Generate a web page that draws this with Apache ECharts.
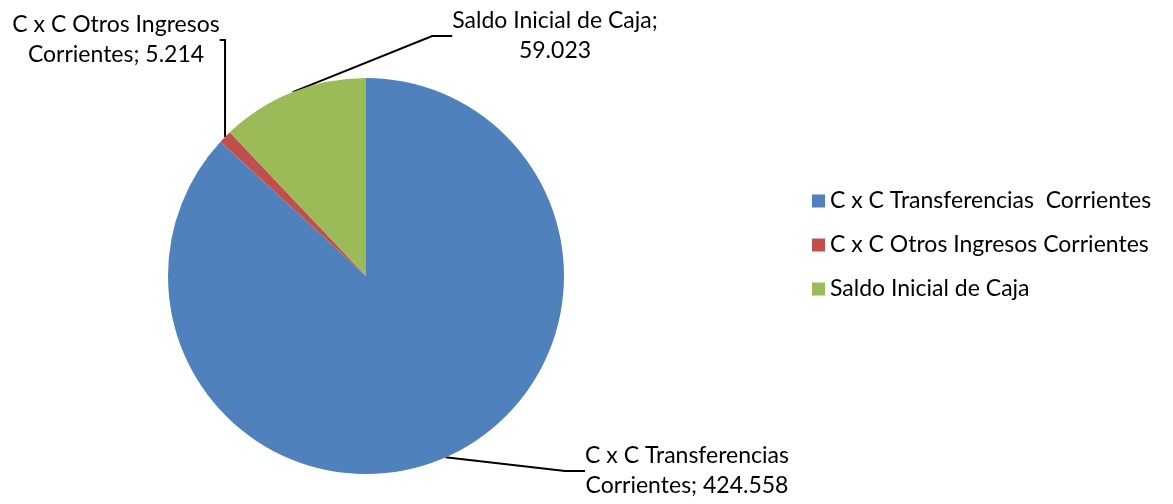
<!DOCTYPE html>
<html><head><meta charset="utf-8">
<script src="https://cdn.jsdelivr.net/npm/echarts@6/dist/echarts.min.js"></script>
<style>html,body{margin:0;padding:0;background:#fff}#c{width:1173px;height:504px}</style>
</head><body><div id="c"></div>
<script>
const categories = ['C x C Transferencias  Corrientes', 'C x C Otros Ingresos Corrientes', 'Saldo Inicial de Caja'];
const labelNames = ['C x C Transferencias\nCorrientes', 'C x C Otros Ingresos\nCorrientes', 'Saldo Inicial de Caja;\n'];
const values = [424.558, 5.214, 59.023];
const valueLabels = ['424.558', '5.214', '59.023'];
const colors = ['#4F81BD', '#C0504D', '#9BBB59'];
const FONT = 'Lato';
const FS = 23;

const labelPos = [
  {x: 687, y: 471},
  {x: 116, y: 40},
  {x: 555, y: 36}
];

const chart = echarts.init(document.getElementById('c'), null, {renderer: 'canvas'});
chart.setOption({
  animation: false,
  color: colors,
  legend: {
    orient: 'vertical', left: 807, top: 184,
    itemWidth: 13, itemHeight: 13, itemGap: 20,
    icon: 'rect',
    textStyle: {fontFamily: FONT, fontSize: FS, color: '#000', lineHeight: 24},
    data: categories
  },
  series: [{
    type: 'pie',
    center: [366, 276],
    radius: 198,
    startAngle: 90,
    clockwise: true,
    data: categories.map((c, i) => ({name: c, value: values[i]})),
    label: {
      show: true,
      position: 'outside',
      fontFamily: FONT, fontSize: FS, color: '#000',
      lineHeight: 30, align: 'center',
      overflow: 'none',
      formatter: p => {
        const i = p.dataIndex;
        return i === 2 ? labelNames[i] + valueLabels[i] : labelNames[i] + '; ' + valueLabels[i];
      }
    },
    labelLine: {show: true, lineStyle: {color: '#000', width: 2}, length: 20, length2: 20},
    labelLayout: p => ({
      x: labelPos[p.dataIndex].x, y: labelPos[p.dataIndex].y,
      align: 'center', verticalAlign: 'middle'
    }),
    itemStyle: {borderWidth: 0},
    emphasis: {disabled: true}
  }]
});
</script></body></html>
